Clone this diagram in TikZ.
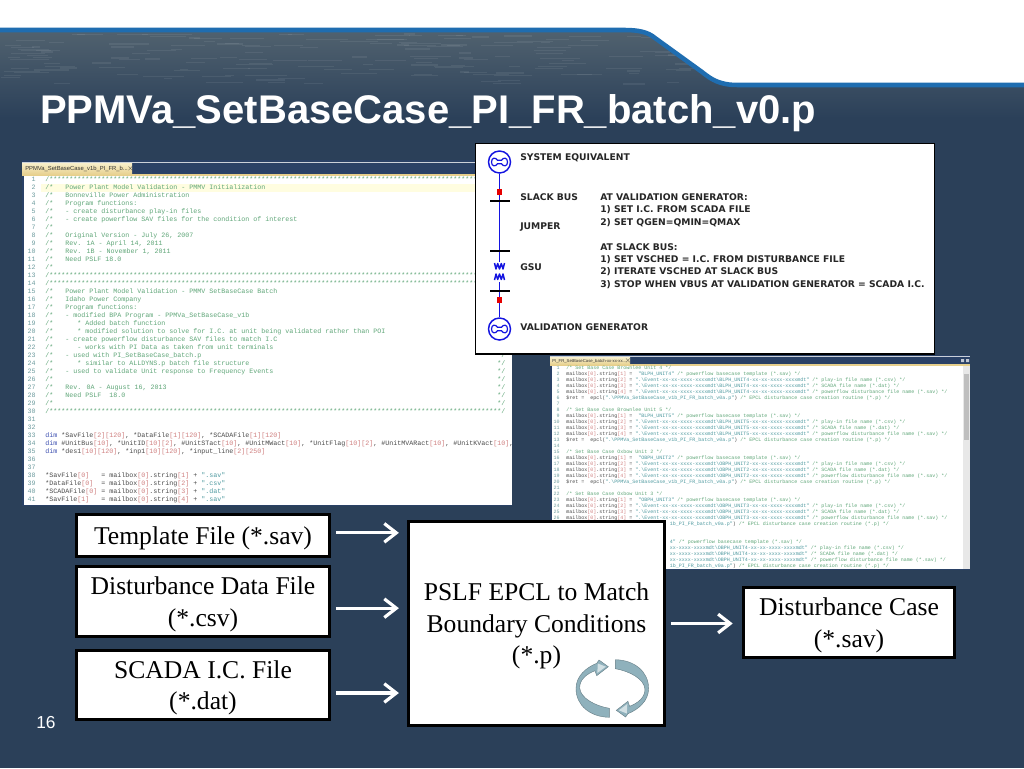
\documentclass[tikz,border=0pt]{standalone}
\usepackage{fontspec}
\usepackage{xcolor}
\usetikzlibrary{arrows.meta, positioning, calc}
\setmainfont{Liberation Serif}
\newfontfamily\titlefont{Liberation Sans}
\newfontfamily\labelfont{DejaVu Sans}
\newfontfamily\codefont{Liberation Mono}
\definecolor{clrNavy}{HTML}{2B4059}
\definecolor{clrWater}{HTML}{51626F}
\definecolor{clrLine}{HTML}{1F6DB0}
\definecolor{clrFrame}{HTML}{2A4166}
\definecolor{clrTabTop}{HTML}{F8EFCB}
\definecolor{clrTabBot}{HTML}{E6CF8C}
\definecolor{clrComment}{HTML}{5FA678}
\definecolor{clrGutter}{HTML}{6F9DA0}
\definecolor{clrKey}{HTML}{3C4FB0}
\definecolor{clrIdx}{HTML}{D08080}
\definecolor{clrCode}{HTML}{4A4A4A}
\definecolor{clrText}{HTML}{4F9AA0}
\definecolor{clrBus}{HTML}{1414E0}
\definecolor{clrCycle}{HTML}{8FB1BC}
\newcommand{\br}[1]{\textcolor{clrIdx}{#1}}
\newcommand{\kw}[1]{\textcolor{clrKey}{#1}}
\newcommand{\st}[1]{\textcolor{clrText}{#1}}
\newcommand{\cm}[1]{\textcolor{clrComment}{#1}}
\newcommand{\topfill}{\rule{0pt}{17.5pt}}
\newcommand{\starten}{**********}
\newcommand{\starrow}{/\starten\starten\starten\starten\starten\starten\starten\starten\starten\starten\starten***}
\newcommand{\mbx}[1]{mailbox\br{[0]}.string\br{[#1]}}
\newcommand{\evt}[1]{\st{".\textbackslash Event-xx-xx-xxxx-xxxxmdt\textbackslash #1-xx-xx-xxxx-xxxxmdt"}}
\newcommand{\evttail}[1]{\st{xx-xxxx-xxxxmdt\textbackslash #1-xx-xx-xxxx-xxxxmdt"}}
% one unit of the batch file
\newcommand{\unithead}[2]{%
\cm{/* Set Base Case #2 */}\\
\mbx{1} = ~\st{"#1"} \cm{/* powerflow basecase template (*.sav) */}\\
\mbx{2} = \evt{#1} \cm{/* play-in file name (*.csv) */}\\
\mbx{3} = \evt{#1} \cm{/* SCADA file name (*.dat) */}\\
\mbx{4} = \evt{#1} \cm{/* powerflow disturbance file name (*.sav) */}}
\newcommand{\rettail}{\st{1b\_PI\_FR\_batch\_v0a.p"}) \cm{/* EPCL disturbance case creation routine (*.p) */}}
\newcommand{\unitblock}[2]{\unithead{#1}{#2}\\
\$ret = ~epcl(\st{".\textbackslash PPMVa\_SetBaseCase\_v1b\_PI\_FR\_batch\_v0a.p"}) \cm{/* EPCL disturbance case creation routine (*.p) */}\\
\mbox{}\\}

\begin{document}
\begin{tikzpicture}[x=0.75pt, y=-0.75pt,
    filebox/.style={rectangle, draw=black, fill=white, line width=2.4pt, align=center, minimum width=190pt, font=\fontsize{19.2}{23.6}\selectfont, inner sep=0pt},
    flowarrow/.style={-{Straight Barb[length=9pt, width=14pt, line width=2.4pt]}, line width=2.4pt, white},
    codeleft/.style={anchor=north west, inner sep=0pt, align=left, text=clrComment, font=\codefont\fontsize{5}{6}\selectfont},
    numleft/.style={anchor=north east, inner sep=0pt, align=right, text=clrGutter, font=\codefont\fontsize{5}{6}\selectfont},
    coderight/.style={anchor=north west, inner sep=0pt, align=left, text=clrCode, font=\codefont\fontsize{3.75}{4.5}\selectfont},
    numright/.style={anchor=north east, inner sep=0pt, align=right, text=clrGutter, font=\codefont\fontsize{3.75}{4.5}\selectfont},
    tablbl/.style={anchor=west, inner sep=0pt, text=black!80},
    lbl/.style={anchor=west, inner sep=0pt, font=\labelfont\bfseries\fontsize{6.9}{9}\selectfont, text=black!85},
    wire/.style={line width=1.1pt, clrBus},
    gensym/.style={circle, draw=clrBus, fill=white, line width=1.1pt, minimum size=16.5pt, inner sep=0pt},
    busbar/.style={rectangle, fill=black, minimum width=15pt, minimum height=1.3pt, inner sep=0pt},
    breaker/.style={rectangle, fill=red!90!black, minimum size=4pt, inner sep=0pt},
    genmark/.pic={\draw[wire, line width=0.9pt] (-2,-1.7) -- (2,-1.7) .. controls (4,-5) and (8,-4.5) .. (8,0) .. controls (8,4.5) and (4,5) .. (2,1.7) -- (-2,1.7) .. controls (-4,5) and (-8,4.5) .. (-8,0) .. controls (-8,-4.5) and (-4,-5) .. (-2,-1.7) -- cycle;},
    cyclearrow/.pic={\filldraw[draw=clrCycle!70!black, line width=0.3pt, fill=clrCycle] (-3,28.8) .. controls (-22,28.5) and (-36.3,17) .. (-36.3,0) .. controls (-36.3,-12.5) and (-26,-21) .. (-15.6,-25.2) -- (-13.3,-28.5) -- (-4,-21.8) -- (-15.6,-12.8) -- (-17.3,-17.8) .. controls (-26,-14.5) and (-33,-8.5) .. (-32.6,-0.5) .. controls (-32,9.5) and (-17,17.5) .. (-3,19.8) -- cycle;
      \fill[clrCycle!40!white] (-14.5,-25) -- (-6.5,-21.8) -- (-15,-15.5) -- cycle;},
]
\useasboundingbox (0,0) rectangle (1024,768);

% slide background
\fill[clrNavy] (0,0) rectangle (1024,768);
\shade[top color=clrWater, bottom color=clrNavy] (0,30) rectangle (1024,118);
\pgfmathsetseed{11}
\foreach \i in {1,...,170}{
  \pgfmathsetmacro{\sx}{rnd*730}
  \pgfmathsetmacro{\sy}{34+rnd*50}
  \pgfmathsetmacro{\sw}{8+rnd*34}
  \draw[white, opacity=0.07, line width=0.9pt] (\sx,\sy) -- ++(\sw,0);
}
\fill[white] (0,0) -- (1024,0) -- (1024,85) -- (738,85) .. controls (720,85) and (712,80) .. (702,72) -- (655,38) .. controls (648,32) and (638,30) .. (625,30) -- (0,30) -- cycle;
\draw[clrLine, line width=3.4pt] (0,30) -- (625,30) .. controls (638,30) and (648,32) .. (655,38) -- (702,72) .. controls (712,80) and (720,85) .. (738,85) -- (1024,85);

\node[anchor=west, inner sep=0pt, text=white, font=\titlefont\bfseries\fontsize{30}{34}\selectfont] (title) at (40,113) {PPMVa\_SetBaseCase\_PI\_FR\_batch\_v0.p};
\node[anchor=west, inner sep=0pt, text=white, font=\titlefont\fontsize{13}{15}\selectfont] (pagenum) at (36,723) {16};

% left code window
\fill[clrFrame] (22,160) rectangle (512,506);
\draw[white!75!clrFrame, line width=0.5pt] (22,162) -- (512,162);
\fill[white] (24,176) rectangle (512,505);
\fill[clrTabBot] (22,174) rectangle (512,176);
\shade[top color=clrTabTop, bottom color=clrTabBot] (22,163) rectangle (132,175);
\fill[yellow!12] (41,183.5) rectangle (512,192);
\node[tablbl, font=\titlefont\fontsize{4.4}{6}\selectfont] (lefttab) at (25,169) {PPMVa\_SetBaseCase\_v1b\_PI\_FR\_b...};
\node[tablbl, font=\titlefont\fontsize{5}{6}\selectfont] (lefttabx) at (126.5,169) {$\times$};
\node[numleft] (leftnum) at (36,176.5) {1\\2\\3\\4\\5\\6\\7\\8\\9\\10\\11\\12\\13\\14\\15\\16\\17\\18\\19\\20\\21\\22\\23\\24\\25\\26\\27\\28\\29\\30\\31\\32\\33\\34\\35\\36\\37\\38\\39\\40\\41};
\begin{scope}
\clip (41,176) rectangle (511,505);
\node[codeleft] (leftcode) at (45,176.5) {\starrow\\
/*~~~Power Plant Model Validation - PMMV Initialization\\
/*~~~Bonneville Power Administration\\
/*~~~Program functions:\\
/*~~~- create disturbance play-in files\\
/*~~~- create powerflow SAV files for the condition of interest\\
/*\\
/*~~~Original Version - July 26, 2007\\
/*~~~Rev. 1A - April 14, 2011\\
/*~~~Rev. 1B - November 1, 2011\\
/*~~~Need PSLF 18.0\\
/*\\
\starrow\\
\starrow\\
/*~~~Power Plant Model Validation - PMMV SetBaseCase Batch\\
/*~~~Idaho Power Company\\
/*~~~Program functions:\\
/*~~~- modified BPA Program - PPMVa\_SetBaseCase\_v1b\\
/*~~~~~~* Added batch function\\
/*~~~~~~* modified solution to solve for I.C. at unit being validated rather than POI\\
/*~~~- create powerflow disturbance SAV files to match I.C\\
/*~~~~~~- works with PI Data as taken from unit terminals\\
/*~~~- used with PI\_SetBaseCase\_batch.p\\
/*~~~~~~* similar to ALLDYNS.p batch file structure\\
/*~~~- used to validate Unit response to Frequency Events\\
/*\\
/*~~~Rev. 0A - August 16, 2013\\
/*~~~Need PSLF~~18.0\\
/*\\
\starrow/\\
\mbox{}\\
\mbox{}\\
\textcolor{clrCode}{\kw{dim} *SavFile\br{[2][120]}, *DataFile\br{[1][120]}, *SCADAFile\br{[1][120]}}\\
\textcolor{clrCode}{\kw{dim} \#UnitBus\br{[10]}, *UnitID\br{[10][2]}, \#UnitSTact\br{[10]}, \#UnitMWact\br{[10]}, *UnitFlag\br{[10][2]}, \#UnitMVARact\br{[10]}, \#UnitKVact\br{[10]},}\\
\textcolor{clrCode}{\kw{dim} *des1\br{[10][120]}, *inp1\br{[10][120]}, *input\_line\br{[2][250]}}\\
\mbox{}\\
\mbox{}\\
\textcolor{clrCode}{*SavFile\br{[0]}~~~= \mbx{1} + \st{".sav"}}\\
\textcolor{clrCode}{*DataFile\br{[0]}~~= \mbx{2} + \st{".csv"}}\\
\textcolor{clrCode}{*SCADAFile\br{[0]} = \mbx{3} + \st{".dat"}}\\
\textcolor{clrCode}{*SavFile\br{[1]}~~~= \mbx{4} + \st{".sav"}}};
\end{scope}
\node[codeleft] (leftclose) at (497,352) {*/\\*/\\*/\\*/\\*/\\*/\\*/};

% right code window
\fill[clrFrame] (550,355) rectangle (970,570);
\draw[white!75!clrFrame, line width=0.5pt] (550,356.5) -- (970,356.5);
\fill[white] (552,365.5) rectangle (970,569);
\fill[clrTabBot] (550,363.5) rectangle (970,365.5);
\shade[top color=clrTabTop, bottom color=clrTabBot] (550,357.5) rectangle (630,365);
\fill[black!9] (963,365.5) rectangle (970,569);
\fill[black!25] (964,374) rectangle (969,440);
\fill[white!70!clrFrame] (961,359) rectangle (964,362) (966,359) rectangle (969,362);
\node[tablbl, font=\titlefont\fontsize{3.2}{4}\selectfont] (righttab) at (552,361) {PI\_FR\_SetBaseCase\_batch-xx-xx-xx...};
\node[tablbl, font=\titlefont\fontsize{3.6}{4}\selectfont] (righttabx) at (624,361) {$\times$};
\node[numright] (rightnum) at (560,366) {1\\2\\3\\4\\5\\6\\7\\8\\9\\10\\11\\12\\13\\14\\15\\16\\17\\18\\19\\20\\21\\22\\23\\24\\25\\26};
\begin{scope}
\clip (562,365.5) rectangle (962,569);
\node[coderight] (rightcode) at (566,366) {\unitblock{BLPH\_UNIT4}{Brownlee Unit 4}\unitblock{BLPH\_UNIT5}{Brownlee Unit 5}\unitblock{OBPH\_UNIT2}{Oxbow Unit 2}\unithead{OBPH\_UNIT3}{Oxbow Unit 3}};
\node[coderight] (rightrest) at (669.6,522) {\rettail\\
\mbox{}\\
\mbox{}\\
\st{4"} \cm{/* powerflow basecase template (*.sav) */}\\
\evttail{OBPH\_UNIT4} \cm{/* play-in file name (*.csv) */}\\
\evttail{OBPH\_UNIT4} \cm{/* SCADA file name (*.dat) */}\\
\evttail{OBPH\_UNIT4} \cm{/* powerflow disturbance file name (*.sav) */}\\
\rettail};
\end{scope}

% one-line sketch of the model
\node[rectangle, draw=black, fill=white, line width=1pt, minimum width=344pt, minimum height=158pt, inner sep=0pt] (onelinebox) at (705,248.5) {};
\node[gensym] (sysgen) at (499.5,162) {};
\node[gensym] (valgen) at (499.5,329) {};
\draw[wire] (sysgen) -- (valgen);
\pic at (sysgen.center) {genmark};
\pic at (valgen.center) {genmark};
\node[breaker] (brktop) at (499.5,192) {};
\node[breaker] (brkbot) at (499.5,300) {};
\node[busbar] (slackbus) at (499.5,201) {};
\node[busbar] (jumperbus) at (499.5,251) {};
\node[busbar] (gsubus) at (499.5,291) {};
\fill[white] (492,262) rectangle (507,282);
\draw[wire, line join=round] (494.5,263) -- (496,269) -- (497.7,263.5) -- (499.5,269) -- (501.3,263.5) -- (503,269) -- (504.5,263);
\draw[wire, line join=round] (494.5,280) -- (496,274) -- (497.7,279.5) -- (499.5,274) -- (501.3,279.5) -- (503,274) -- (504.5,280);

\node[lbl] (sysname) at (520,157.5) {SYSTEM EQUIVALENT};
\node[lbl] (slackname) at (520,197.5) {SLACK BUS};
\node[lbl] (jumpname) at (520,227.5) {JUMPER};
\node[lbl] (gsuname) at (520,267.5) {GSU};
\node[lbl] (valname) at (520,327.5) {VALIDATION GENERATOR};
\node[lbl] (gennote) at (600,197.5) {AT VALIDATION GENERATOR:};
\node[lbl] (gennotea) at (600,210) {1) SET I.C. FROM SCADA FILE};
\node[lbl] (gennoteb) at (600,222.5) {2) SET QGEN=QMIN=QMAX};
\node[lbl] (busnote) at (600,247.5) {AT SLACK BUS:};
\node[lbl] (busnotea) at (600,260) {1) SET VSCHED = I.C. FROM DISTURBANCE FILE};
\node[lbl] (busnoteb) at (600,272) {2) ITERATE VSCHED AT SLACK BUS};
\node[lbl] (busnotec) at (600,284.5) {3) STOP WHEN VBUS AT VALIDATION GENERATOR = SCADA I.C.};

% files and process
\node[filebox, minimum height=32pt] (tmpl) at (203,535.5) {\topfill Template File (*.sav)};
\node[filebox, minimum height=52pt] (dist) at (203,601.5) {\topfill Disturbance Data File\\(*.csv)};
\node[filebox, minimum height=52pt] (scada) at (203,685) {\topfill SCADA I.C. File\\(*.dat)};
\node[filebox, minimum width=192pt, minimum height=153pt] (pslf) at (536.5,623.5) {\topfill PSLF EPCL to Match\\Boundary Conditions\\(*.p)};
\node[filebox, minimum width=158pt, minimum height=52pt] (distcase) at (849,622.5) {\topfill Disturbance Case\\(*.sav)};

\pic at (612.3,688.5) {cyclearrow};
\pic[rotate=180] at (612.3,688.5) {cyclearrow};

\draw[flowarrow] ([xshift=3.5pt, yshift=2pt]tmpl.east) -- ([xshift=-6pt, yshift=2pt]tmpl.east -| pslf.west);
\draw[flowarrow] ([xshift=3.5pt, yshift=-5pt]dist.east) -- ([xshift=-6pt, yshift=-5pt]dist.east -| pslf.west);
\draw[flowarrow] ([xshift=3.5pt, yshift=-6pt]scada.east) -- ([xshift=-6pt, yshift=-6pt]scada.east -| pslf.west);
\draw[flowarrow] ([xshift=3.5pt]pslf.east) -- ([xshift=-7pt]pslf.east -| distcase.west);
\end{tikzpicture}
\end{document}
